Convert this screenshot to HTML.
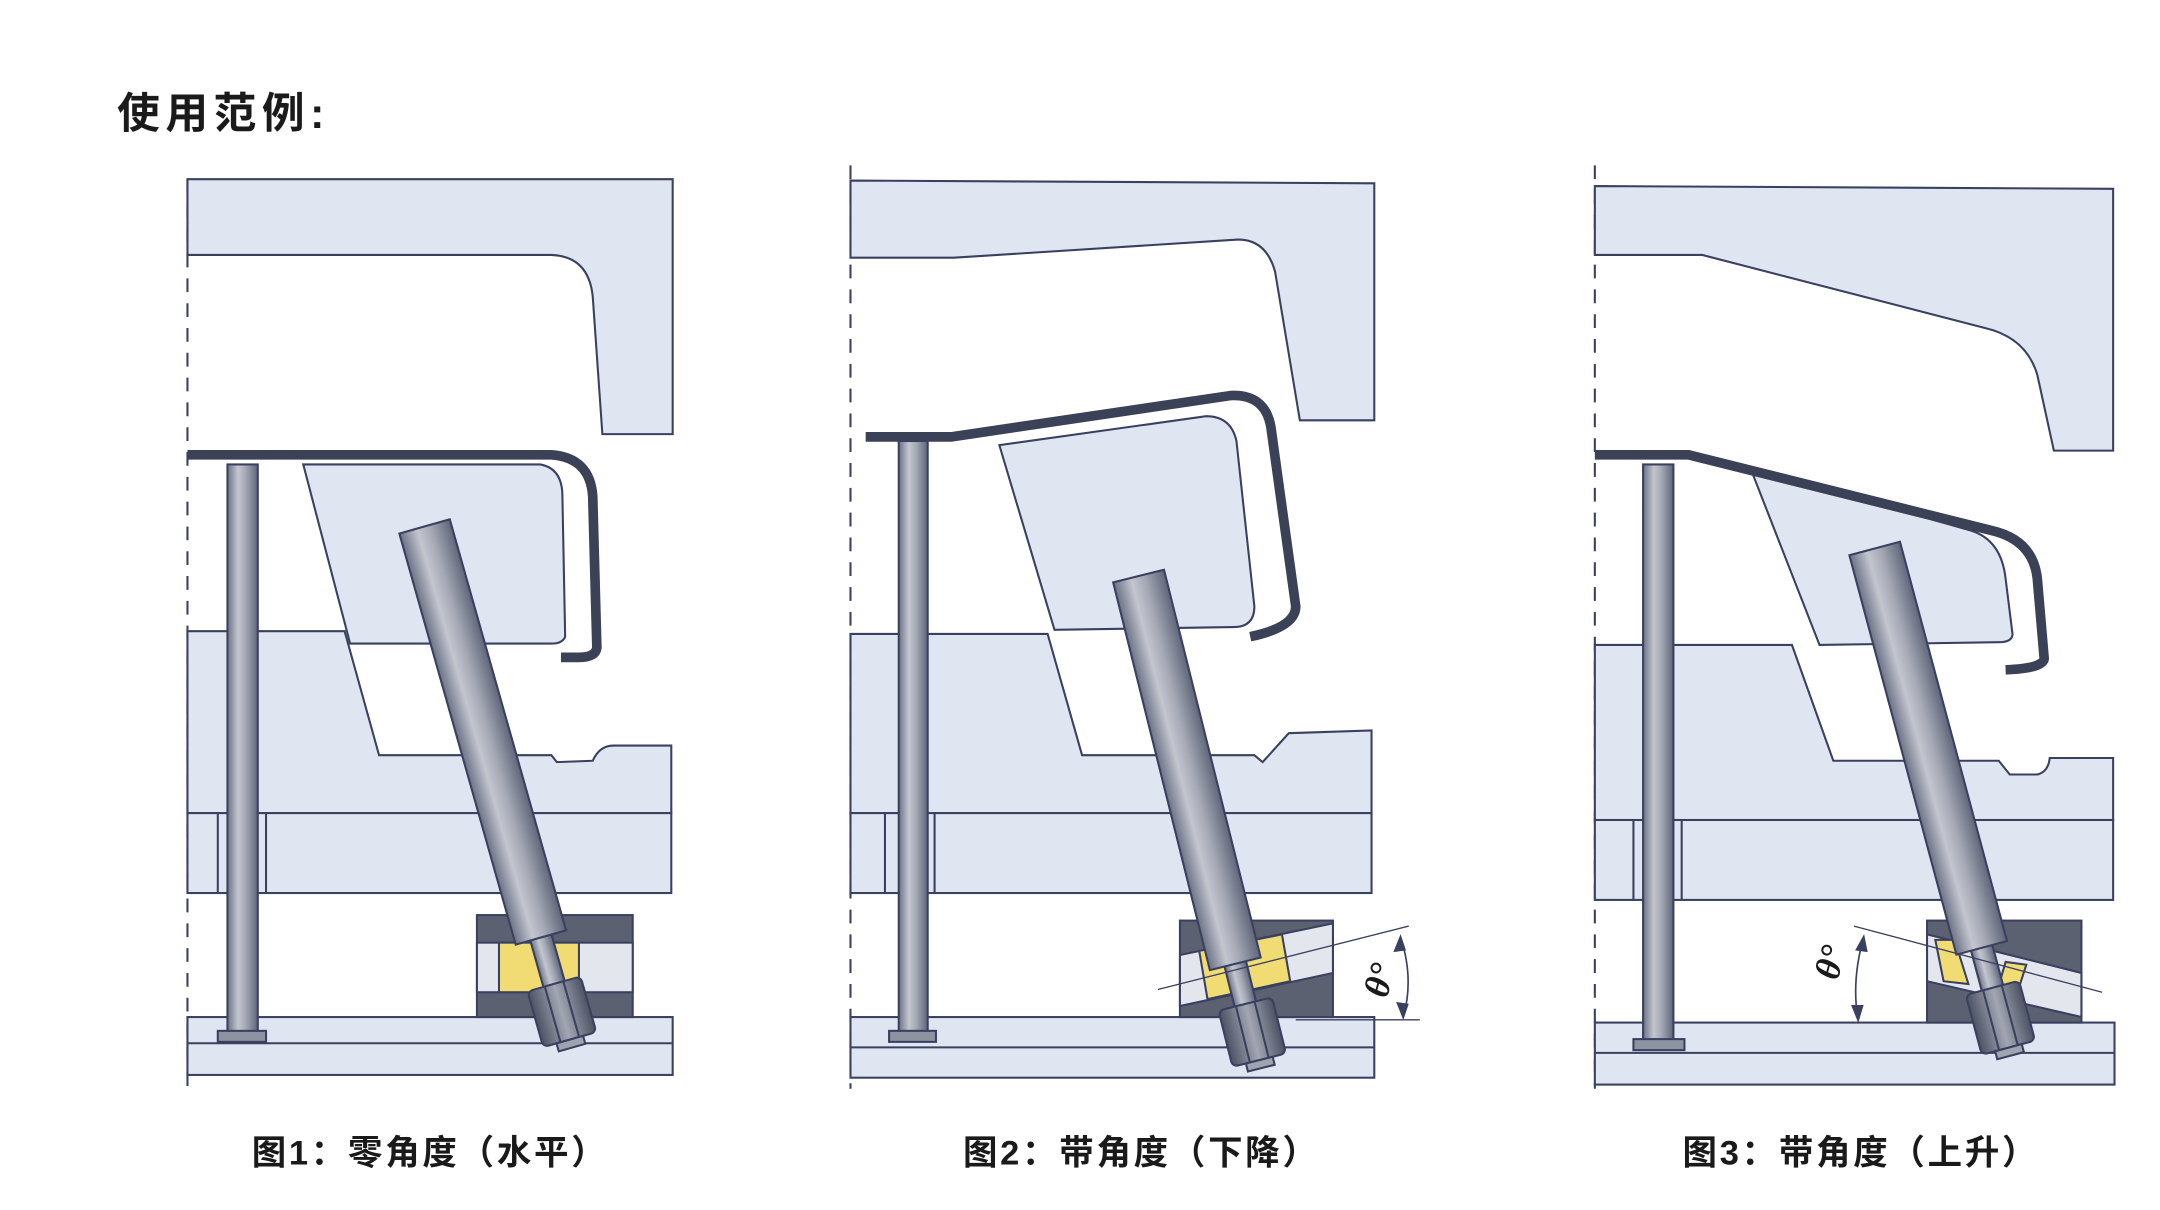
<!DOCTYPE html>
<html><head><meta charset="utf-8"><style>
html,body{margin:0;padding:0;background:#fff;width:2160px;height:1210px;overflow:hidden}
svg{display:block}
text{font-family:"Liberation Sans","Noto Sans CJK SC",sans-serif;font-weight:bold;fill:#1a1a1a}
</style></head><body>
<svg width="2160" height="1210" viewBox="0 0 1567 878" preserveAspectRatio="none" xmlns="http://www.w3.org/2000/svg">
<defs>
<linearGradient id="rod" x1="0" x2="1" y1="0" y2="0">
<stop offset="0" stop-color="#6c7286"/><stop offset="0.35" stop-color="#c3c6cf"/><stop offset="0.6" stop-color="#a5a9b5"/><stop offset="1" stop-color="#5f6579"/>
</linearGradient>
<linearGradient id="nut" x1="0" x2="1"><stop offset="0" stop-color="#4d5264"/><stop offset="0.5" stop-color="#a2a6b2"/><stop offset="1" stop-color="#4d5264"/></linearGradient>
</defs>
<g stroke="#3a4060" stroke-width="1.5" fill="#e0e6f1">
<!-- ========== Panel 1 ========== -->
<line x1="136" y1="130" x2="136" y2="792" stroke-dasharray="10,8" fill="none"/>
<path d="M136,130 L488,130 L488,315 L437,315 L430,215 Q427,186 400,185 L136,185 Z"/>
<path d="M136,458 L250,458 L275,548 L400,548 L404,553 L430,552 Q435,541 445,541 L487,541 L487,590 L136,590 Z"/>
<rect x="136" y="590" width="351" height="58"/>
<line x1="158" y1="590" x2="158" y2="648"/><line x1="193" y1="590" x2="193" y2="648"/>
<rect x="136" y="738" width="352" height="42"/><line x1="136" y1="757" x2="488" y2="757"/>
<path d="M220,337 L392,337 Q408,340 408,360 L410,462 Q408,467 400,467 L254,467 Z"/>
<path d="M136,330 L400,330 Q428,332 430,360 L433,470 Q432,477 420,477 L407,477" fill="none" stroke="#3b4257" stroke-width="7"/>
<rect x="165" y="337" width="22" height="412" fill="url(#rod)"/>
<rect x="158" y="748" width="35" height="8" fill="#8e93a2"/>
<rect x="346" y="664" width="113" height="74" fill="#5c6172"/>
<rect x="346" y="684" width="113" height="36" fill="#e4e6ee"/>
<rect x="362" y="684" width="58" height="36" fill="#f1dc74"/>
<g transform="translate(308,382) rotate(-15.8)">
<rect x="-8" y="300" width="16" height="45" fill="url(#rod)"/>
<rect x="-19" y="0" width="38" height="310" fill="url(#rod)"/>
<rect x="-20" y="345" width="40" height="42" rx="4" fill="url(#nut)"/>
<line x1="-7" y1="345" x2="-7" y2="387"/><line x1="7" y1="345" x2="7" y2="387"/>
<rect x="-10" y="387" width="20" height="6" fill="#a0a4b0"/>
</g>
<!-- ========== Panel 2 ========== -->
<line x1="617" y1="120" x2="617" y2="790" stroke-dasharray="10,8" fill="none"/>
<path d="M617,131 L997,133 L997,305 L943,305 L925,197 Q918,172 895,174 L692,187 L617,187 Z"/>
<path d="M617,460 L760,460 L785,548 L910,548 L916,553 L935,532 L995,530 L995,590 L617,590 Z"/>
<rect x="617" y="590" width="378" height="58"/>
<line x1="642" y1="590" x2="642" y2="648"/><line x1="678" y1="590" x2="678" y2="648"/>
<rect x="617" y="738" width="380" height="44"/><line x1="617" y1="760" x2="997" y2="760"/>
<path d="M725,323 L875,302 Q893,302 897,320 L910,440 Q910,455 895,455 L765,457 Z"/>
<path d="M628,317 L690,317 L893,287 Q918,286 922,310 L940,440 Q940,455 907,462" fill="none" stroke="#3b4257" stroke-width="7"/>
<rect x="652" y="320" width="21" height="430" fill="url(#rod)"/>
<rect x="645" y="748" width="34" height="8" fill="#8e93a2"/>
<rect x="856" y="668" width="111" height="70" fill="#5c6172"/>
<path d="M856,693 L967,670 L967,706 L856,730 Z" fill="#e4e6ee"/>
<path d="M870,690 L930,678 L936,712 L876,725 Z" fill="#f1dc74"/>
<g transform="translate(826,418) rotate(-14)">
<rect x="-8" y="285" width="16" height="40" fill="url(#rod)"/>
<rect x="-19" y="0" width="38" height="290" fill="url(#rod)"/>
<rect x="-20" y="320" width="40" height="42" rx="4" fill="url(#nut)"/>
<line x1="-7" y1="320" x2="-7" y2="362"/><line x1="7" y1="320" x2="7" y2="362"/>
<rect x="-10" y="362" width="20" height="6" fill="#a0a4b0"/>
</g>
<line x1="840" y1="718" x2="1022" y2="672" fill="none" stroke-width="1"/>
<line x1="940" y1="740" x2="1030" y2="740" fill="none" stroke-width="1"/>
<path d="M1016,680 Q1026,710 1018,738" fill="none" stroke-width="1.2"/>
<path d="M1016,680 l-4,10 l7,-1 Z M1018,738 l-4,-10 l7,1 Z" fill="#3a4060"/>
<!-- ========== Panel 3 ========== -->
<line x1="1157" y1="120" x2="1157" y2="790" stroke-dasharray="10,8" fill="none"/>
<path d="M1157,135 L1533,137 L1533,327 L1490,327 L1478,272 Q1470,245 1440,238 L1235,185 L1157,185 Z"/>
<path d="M1157,468 L1300,468 L1330,552 L1450,552 L1458,562 L1478,562 Q1486,560 1487,550 L1533,550 L1533,595 L1157,595 Z"/>
<rect x="1157" y="595" width="376" height="58"/>
<line x1="1185" y1="595" x2="1185" y2="653"/><line x1="1220" y1="595" x2="1220" y2="653"/>
<rect x="1157" y="742" width="377" height="45"/><line x1="1157" y1="764" x2="1534" y2="764"/>
<path d="M1270,340 L1430,385 Q1452,392 1455,420 L1460,460 Q1460,466 1450,466 L1320,468 Z"/>
<path d="M1157,330 L1225,330 L1445,385 Q1475,392 1478,420 L1483,478 Q1482,485 1455,486" fill="none" stroke="#3b4257" stroke-width="7"/>
<rect x="1192" y="337" width="22" height="418" fill="url(#rod)"/>
<rect x="1185" y="754" width="37" height="8" fill="#8e93a2"/>
<rect x="1398" y="668" width="112" height="74" fill="#5c6172"/>
<path d="M1398,678 L1510,706 L1510,738 L1398,712 Z" fill="#e4e6ee"/>
<path d="M1404,682 L1418,682 L1428,714 L1410,712 Z M1455,698 L1470,700 L1462,725 L1448,722 Z" fill="#f1dc74"/>
<g transform="translate(1360,398) rotate(-15)">
<rect x="-8" y="295" width="16" height="40" fill="url(#rod)"/>
<rect x="-19" y="0" width="38" height="300" fill="url(#rod)"/>
<rect x="-20" y="330" width="40" height="45" rx="4" fill="url(#nut)"/>
<line x1="-7" y1="330" x2="-7" y2="375"/><line x1="7" y1="330" x2="7" y2="375"/>
<rect x="-10" y="375" width="20" height="6" fill="#a0a4b0"/>
</g>
<line x1="1345" y1="672" x2="1525" y2="720" fill="none" stroke-width="1"/>
<path d="M1352,680 Q1343,712 1348,740" fill="none" stroke-width="1.2"/>
<path d="M1352,680 l-5,9 l7,1 Z M1348,740 l-4,-10 l7,0 Z" fill="#3a4060"/>
</g>
<text x="85" y="93" font-size="31" letter-spacing="4">使用范例:</text>
<text transform="translate(1006,725) rotate(-75)" font-size="26" font-style="italic" font-weight="normal" style="font-family:'Liberation Serif',serif">θ°</text>
<text transform="translate(1333,712) rotate(-75)" font-size="26" font-style="italic" font-weight="normal" style="font-family:'Liberation Serif',serif">θ°</text>
<text x="312" y="845" font-size="25" text-anchor="middle" letter-spacing="2">图1：零角度（水平）</text>
<text x="828" y="845" font-size="25" text-anchor="middle" letter-spacing="2">图2：带角度（下降）</text>
<text x="1350" y="845" font-size="25" text-anchor="middle" letter-spacing="2">图3：带角度（上升）</text>
</svg>
</body></html>
